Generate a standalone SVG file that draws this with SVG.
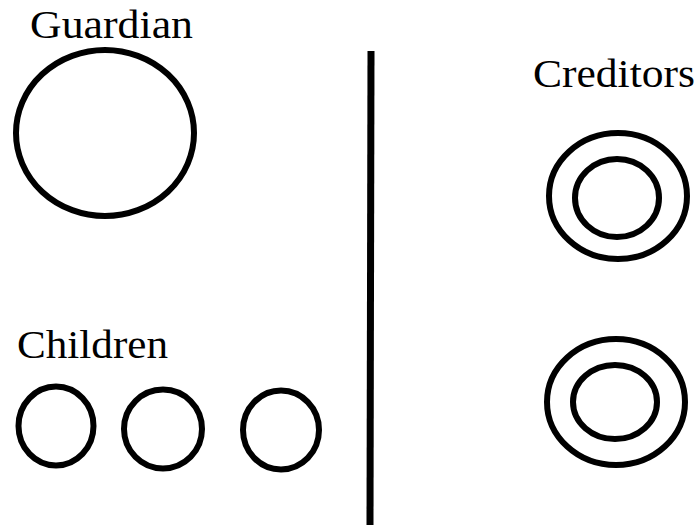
<svg xmlns="http://www.w3.org/2000/svg" width="698" height="525" viewBox="0 0 698 525">
<style>
.ring{fill:none;stroke:#000;stroke-width:6}
.lbl{font-family:"Liberation Serif","Times New Roman",serif;font-size:39px;fill:#000}
</style>
<rect width="698" height="525" fill="#fff"/>
<g id="guardian">
<text class="lbl" x="30" y="38" textLength="163" lengthAdjust="spacingAndGlyphs">Guardian</text>
<ellipse class="ring" cx="105" cy="133" rx="89" ry="83"/>
</g>
<g id="children">
<text class="lbl" x="17" y="358" textLength="151" lengthAdjust="spacingAndGlyphs">Children</text>
<ellipse id="child1" class="ring" cx="56" cy="426" rx="37.5" ry="39.5"/>
<ellipse id="child2" class="ring" cx="163" cy="429" rx="39" ry="39.5"/>
<ellipse id="child3" class="ring" cx="281" cy="430" rx="38" ry="39.5"/>
</g>
<g id="creditors">
<text class="lbl" x="533" y="87" textLength="162" lengthAdjust="spacingAndGlyphs">Creditors</text>
<g id="creditor1">
<ellipse class="ring" cx="618" cy="196" rx="69" ry="63"/>
<ellipse class="ring" cx="617" cy="198" rx="42" ry="39"/>
</g>
<g id="creditor2">
<ellipse class="ring" cx="616" cy="402" rx="69" ry="63"/>
<ellipse class="ring" cx="615" cy="402" rx="42" ry="37"/>
</g>
</g>
<g id="connectors">
<line x1="371" y1="51" x2="370" y2="525" stroke="#000" stroke-width="7"/>
</g>
</svg>
